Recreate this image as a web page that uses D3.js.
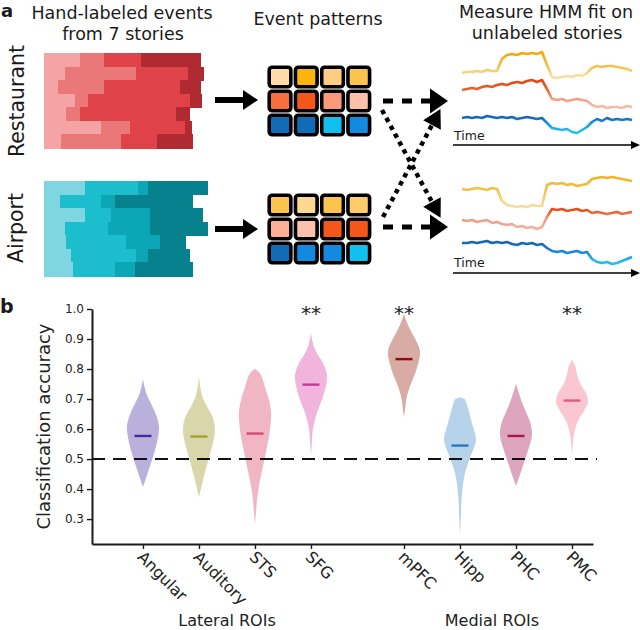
<!DOCTYPE html>
<html><head><meta charset="utf-8">
<script src="https://cdn.jsdelivr.net/npm/d3@7"></script>
<style>body{margin:0;background:#fff}svg{display:block;font-family:"DejaVu Sans",sans-serif}</style>
</head><body><svg id="c" width="640" height="630"></svg>
<script>
// ---------- Panel a data ----------
const restaurantEvents = [
  [0,36,60,97,157],[0,21,92,144,160],[0,14,60,136,157],[0,31,44,146,158],
  [0,22,36,132,146],[0,57,86,141,148],[0,17,77,113,149]];
const airportEvents = [
  [0,41,94,104,164],[0,16,57,71,149],[0,41,67,106,159],[0,21,64,106,164],
  [0,22,82,116,142],[0,27,92,104,146],[0,29,71,91,149]];
const restaurantColors = ["#f4a4a4","#ea7878","#df4349","#b02b31"];
const airportColors = ["#80d6e0","#1cbdcd","#0ca7b7","#07818d"];
const restaurantPattern = [
  ["#fddcaa","#fbb40c","#fdcd82","#fcc44c"],
  ["#f76f3e","#f3571a","#fb9a7a","#fdc0aa"],
  ["#106cb6","#106cb6","#12c0f0","#128ae0"]];
const airportPattern = [
  ["#fcc44c","#fdd892","#fcc44c","#fdcb6c"],
  ["#fdae96","#fdc0aa","#f3571a","#f3571a"],
  ["#106cb6","#128ae0","#128ae0","#12c0f0"]];
// HMM fit time courses (arbitrary activation units)
const topYellow = [7.2,7.3,7.3,7.4,7.3,7.5,7.4,7.4,8.6,9.0,9.1,9.0,9.2,9.1,9.2,9.1,9.3,8.0,6.8,6.7,6.8,6.9,6.8,7.0,6.9,7.2,7.7,7.9,7.8,7.9,7.9,7.8,7.7,7.6,7.4];
const topOrange = [5.5,5.6,5.7,5.6,5.8,5.9,5.8,6.0,6.1,6.0,6.2,6.3,6.2,6.4,6.5,6.3,6.5,5.6,4.6,4.5,4.6,4.4,4.5,4.6,4.5,4.4,4.0,3.8,3.9,3.7,3.8,3.8,3.7,3.9,3.8];
const topBlue = [2.7,2.8,2.7,2.8,2.7,2.9,2.8,2.7,2.8,2.7,2.8,2.6,2.7,2.8,2.7,2.6,2.7,2.2,1.7,1.6,1.5,1.6,1.3,1.2,1.5,1.8,2.3,2.6,2.4,2.7,2.5,2.6,2.5,2.6,2.5];
const botYellow = [8.4,8.3,8.4,8.5,8.4,8.3,8.5,8.4,7.2,6.8,6.7,6.6,6.7,6.6,6.8,6.7,6.7,8.8,9.0,8.9,9.0,8.8,8.9,8.7,8.8,8.9,9.4,9.5,9.6,9.5,9.6,9.5,9.4,9.3,9.2];
const botOrange = [5.3,5.2,5.3,5.1,5.2,5.3,5.0,5.1,4.9,4.8,4.9,4.6,4.7,4.5,4.6,4.4,4.6,5.6,6.4,6.3,6.4,6.2,6.3,6.4,6.2,6.3,6.0,6.1,6.0,5.9,6.0,6.1,5.9,6.0,6.1];
const botBlue = [3.0,3.0,3.1,3.0,3.1,3.2,3.0,3.1,3.0,3.1,2.9,2.8,3.0,2.9,3.0,2.8,2.9,2.5,2.2,2.1,2.2,2.0,2.1,2.2,2.0,2.1,1.4,1.1,1.0,1.1,0.9,1.0,1.2,1.4,1.6];
const topYellowStops = [[9.0,"#f0aa10"],[7.8,"#f3c44e"],[6.9,"#f8dea0"]];
const topOrangeStops = [[6.3,"#e24a16"],[5.5,"#e96630"],[4.6,"#f3a084"],[3.8,"#f6baa6"]];
const topBlueStops = [[2.8,"#1466b8"],[2.4,"#1a82d2"],[1.4,"#26bff2"]];
const botYellowStops = [[9.5,"#f0b428"],[8.4,"#f0c24a"],[6.7,"#f8dc9e"]];
const botOrangeStops = [[6.3,"#e8501a"],[5.4,"#f09a82"],[4.4,"#f4b2a2"]];
const botBlueStops = [[3.0,"#1466b8"],[2.1,"#1a88dc"],[1.0,"#26bff2"]];

// ---------- Panel b data ----------
const rois = ["Angular","Auditory","STS","SFG","mPFC","Hipp","PHC","PMC"];
const roiGroups = ["Lateral","Lateral","Lateral","Lateral","Medial","Medial","Medial","Medial"];
const groupLabels = {Lateral:"Lateral ROIs", Medial:"Medial ROIs"};
const medians = [0.577,0.575,0.585,0.748,0.833,0.545,0.577,0.695];
const significant = [false,false,false,true,true,false,false,true];
const violinProfiles = [
  [[0.407,0],[0.43,0.15],[0.47,0.4],[0.52,0.7],[0.57,0.93],[0.61,1.0],[0.65,0.8],[0.69,0.45],[0.72,0.2],[0.745,0.08],[0.767,0]],
  [[0.373,0],[0.40,0.12],[0.45,0.35],[0.50,0.6],[0.55,0.86],[0.60,1.0],[0.64,0.85],[0.68,0.45],[0.71,0.2],[0.74,0.08],[0.78,0]],
  [[0.28,0],[0.32,0.06],[0.37,0.14],[0.42,0.28],[0.47,0.48],[0.52,0.67],[0.57,0.86],[0.62,0.98],[0.66,1.0],[0.70,0.86],[0.74,0.62],[0.77,0.45],[0.79,0.25],[0.80,0]],
  [[0.51,0],[0.55,0.05],[0.60,0.12],[0.65,0.35],[0.70,0.7],[0.75,0.96],[0.78,1.0],[0.82,0.75],[0.85,0.4],[0.88,0.15],[0.92,0]],
  [[0.64,0],[0.67,0.08],[0.70,0.15],[0.74,0.36],[0.78,0.66],[0.82,0.9],[0.86,1.0],[0.90,0.7],[0.93,0.4],[0.96,0.15],[0.985,0]],
  [[0.25,0],[0.30,0.05],[0.35,0.08],[0.40,0.15],[0.45,0.3],[0.50,0.6],[0.55,0.95],[0.57,1.0],[0.61,0.8],[0.65,0.6],[0.69,0.38],[0.70,0.3],[0.705,0]],
  [[0.41,0],[0.44,0.2],[0.48,0.45],[0.53,0.76],[0.58,1.0],[0.62,0.9],[0.66,0.6],[0.70,0.3],[0.73,0.12],[0.75,0]],
  [[0.51,0],[0.55,0.05],[0.59,0.15],[0.63,0.4],[0.66,0.75],[0.69,1.0],[0.72,0.86],[0.75,0.52],[0.78,0.32],[0.81,0.2],[0.83,0]]];
const violinFills = ["#b9b1dc","#d8d6aa","#f0b6c4","#f1b5dd","#d8aba5","#b6d3eb","#dda6be","#f9c6d1"];
const medianColors = ["#3c2ca0","#a4a42a","#d84874","#c03c9c","#8c0c10","#2878c0","#a4184c","#e0607c"];
const yTicks = [0.3,0.4,0.5,0.6,0.7,0.8,0.9,1.0];
const chanceLevel = 0.5;

const svg = d3.select("#c");
const ink = "#1a1a1a";

// ================= Panel a =================
svg.append("text").attr("x",1).attr("y",17).attr("font-size",18).attr("font-weight","bold").attr("fill",ink).text("a");
const titles = [
  {x:122,y:19,t:"Hand-labeled events"},{x:123,y:40,t:"from 7 stories"},
  {x:318,y:25,t:"Event patterns"},
  {x:546,y:18,t:"Measure HMM fit on"},{x:547,y:39,t:"unlabeled stories"}];
svg.selectAll("text.title").data(titles).join("text").attr("class","title")
  .attr("x",d=>d.x).attr("y",d=>d.y).attr("text-anchor","middle").attr("font-size",17.5).attr("fill",ink).text(d=>d.t);
svg.append("text").attr("transform","translate(24,101) rotate(-90)").attr("text-anchor","middle").attr("font-size",20.5).attr("fill",ink).text("Restaurant");
svg.append("text").attr("transform","translate(23,228) rotate(-90)").attr("text-anchor","middle").attr("font-size",20.5).attr("fill",ink).text("Airport");

const evX = d3.scaleLinear().domain([0,160]).range([44,204]);
function drawEvents(rows, colors, top, bottom){
  const band = d3.scaleBand().domain(d3.range(rows.length)).range([top,bottom]);
  const g = svg.append("g").attr("shape-rendering","crispEdges");
  rows.forEach((b,r)=>{
    for(let k=0;k<b.length-1;k++){
      g.append("rect").attr("x",evX(b[k])).attr("y",band(r))
        .attr("width",evX(b[k+1])-evX(b[k])+(k<b.length-2?0.6:0)).attr("height",band.bandwidth()+0.6)
        .attr("fill",colors[k]);
    }
  });
}
drawEvents(restaurantEvents, restaurantColors, 53, 148);
drawEvents(airportEvents, airportColors, 181, 276);

function solidArrow(x1,x2,y){
  svg.append("line").attr("x1",x1).attr("x2",x2-12).attr("y1",y).attr("y2",y).attr("stroke","#000").attr("stroke-width",6);
  svg.append("polygon").attr("points",`${x2-15},${y-10} ${x2},${y} ${x2-15},${y+10}`).attr("fill","#000");
}
solidArrow(215,258,100);
solidArrow(215,258,229);

function drawPattern(pat, left, top){
  const cx = d3.scaleBand().domain(d3.range(4)).range([left,left+105]);
  const cy = d3.scaleBand().domain(d3.range(3)).range([top,top+72]);
  pat.forEach((row,r)=>row.forEach((c,k)=>{
    svg.append("rect").attr("x",cx(k)+2.2).attr("y",cy(r)+2.2)
      .attr("width",cx.bandwidth()-4.6).attr("height",cy.bandwidth()-4.4)
      .attr("rx",3).attr("fill",c).attr("stroke","#000").attr("stroke-width",3.6);
  }));
}
drawPattern(restaurantPattern,267,65);
drawPattern(airportPattern,267,193);

function head(xb,yb,dx,dy,len,hw){
  const n=Math.hypot(dx,dy), ux=dx/n, uy=dy/n, px=-uy, py=ux;
  svg.append("polygon").attr("points",
    `${xb+px*hw},${yb+py*hw} ${xb+ux*len},${yb+uy*len} ${xb-px*hw},${yb-py*hw}`).attr("fill","#000");
}
// dashed arrows
[101,227].forEach(y=>{
  svg.append("line").attr("x1",383).attr("x2",431).attr("y1",y).attr("y2",y)
    .attr("stroke","#000").attr("stroke-width",5).attr("stroke-dasharray","10,9");
  head(430,y,1,0,18,12.5);
});
// dotted crossing arrows
svg.append("line").attr("x1",382).attr("y1",110).attr("x2",432).attr("y2",202)
  .attr("stroke","#000").attr("stroke-width",4.5).attr("stroke-dasharray","4.5,4.5");
head(432,202,50,92,18,10);
svg.append("line").attr("x1",383).attr("y1",217).attr("x2",432).attr("y2",125)
  .attr("stroke","#000").attr("stroke-width",4.5).attr("stroke-dasharray","4.5,4.5");
head(432,125,49,-92,18,10);

// time courses
const tsX = d3.scaleLinear().domain([0,34]).range([462,632]);
const defs = svg.append("defs");
let gid=0;
function trace(vals, yScale, stops){
  const id="g"+(gid++);
  const y0=yScale(stops[0][0]), y1=yScale(stops[stops.length-1][0]);
  const lg = defs.append("linearGradient").attr("id",id).attr("gradientUnits","userSpaceOnUse")
    .attr("x1",0).attr("x2",0).attr("y1",y0).attr("y2",y1);
  stops.forEach(s=>lg.append("stop").attr("offset",(yScale(s[0])-y0)/(y1-y0)).attr("stop-color",s[1]));
  svg.append("path").attr("d",d3.line().x((d,i)=>tsX(i)).y(d=>yScale(d))(vals))
    .attr("fill","none").attr("stroke",`url(#${id})`).attr("stroke-width",2.6).attr("stroke-linejoin","round");
}
const topY = d3.scaleLinear().domain([0,10]).range([145,45]);
const botY = d3.scaleLinear().domain([0,10]).range([273,173]);
trace(topYellow, topY, topYellowStops);
trace(topOrange, topY, topOrangeStops);
trace(topBlue, topY, topBlueStops);
trace(botYellow, botY, botYellowStops);
trace(botOrange, botY, botOrangeStops);
trace(botBlue, botY, botBlueStops);
[[145,140],[273,267]].forEach(([ya,yt])=>{
  svg.append("line").attr("x1",453).attr("x2",634).attr("y1",ya).attr("y2",ya).attr("stroke","#000").attr("stroke-width",1.6);
  svg.append("polygon").attr("points",`${631},${ya-4} ${640},${ya} ${631},${ya+4}`).attr("fill","#000");
  svg.append("text").attr("x",454).attr("y",yt).attr("font-size",12.5).attr("fill",ink).text("Time");
});

// ================= Panel b =================
svg.append("text").attr("x",0).attr("y",313).attr("font-size",19).attr("font-weight","bold").attr("fill",ink).text("b");
const groupGap = 0.66;
const pos = i => i + (roiGroups[i]==="Medial" ? groupGap : 0);
const x = d3.scaleLinear().domain([-0.91,8.035]).range([92,593]);
const y = d3.scaleLinear().domain([0.217,1.0]).range([544,309]);
const halfW = 16;

const vg = svg.append("g");
violinProfiles.forEach((prof,i)=>{
  const cx = x(pos(i));
  const area = d3.area().curve(d3.curveCatmullRom.alpha(0.5))
    .y(d=>y(d[0])).x0(d=>cx-d[1]*halfW).x1(d=>cx+d[1]*halfW);
  vg.append("path").attr("d",area(prof)).attr("fill",violinFills[i]);
  vg.append("line").attr("x1",cx-8.5).attr("x2",cx+8.5).attr("y1",y(medians[i])).attr("y2",y(medians[i]))
    .attr("stroke",medianColors[i]).attr("stroke-width",2.4);
});
// chance line
svg.append("line").attr("x1",92).attr("x2",597).attr("y1",y(chanceLevel)).attr("y2",y(chanceLevel))
  .attr("stroke","#111").attr("stroke-width",2).attr("stroke-dasharray","13,8");

// axes
const yAxis = svg.append("g").attr("transform","translate(92,0)")
  .call(d3.axisLeft(y).tickValues(yTicks).tickFormat(d3.format(".1f")).tickSize(5).tickSizeOuter(0).tickPadding(3));
yAxis.select(".domain").attr("stroke",ink).attr("stroke-width",2);
yAxis.selectAll(".tick line").attr("stroke",ink).attr("stroke-width",1.4);
yAxis.selectAll("text").attr("font-size",12).attr("fill","#222").attr("font-family","DejaVu Sans");

const xAxis = svg.append("g").attr("transform","translate(0,544)")
  .call(d3.axisBottom(x).tickValues(rois.map((r,i)=>pos(i))).tickFormat((d,i)=>rois[i]).tickSize(5).tickSizeOuter(0));
xAxis.select(".domain").attr("stroke",ink).attr("stroke-width",2);
xAxis.selectAll(".tick line").attr("stroke",ink).attr("stroke-width",1.4);
xAxis.selectAll("text").attr("font-size",16).attr("fill","#222").attr("font-family","DejaVu Sans")
  .attr("text-anchor","start").attr("dy",0).attr("y",0)
  .attr("transform","translate(-7,14) rotate(45)");

// stars
svg.selectAll("text.star").data(rois.map((r,i)=>i).filter(i=>significant[i])).join("text").attr("class","star")
  .attr("x",i=>x(pos(i))).attr("y",320).attr("text-anchor","middle").attr("font-size",20).attr("fill","#222").text("**");

// axis labels
svg.append("text").attr("transform",`translate(50,${(y.range()[0]+y.range()[1])/2}) rotate(-90)`)
  .attr("text-anchor","middle").attr("font-size",18).attr("fill","#222").text("Classification accuracy");
Object.keys(groupLabels).forEach(gk=>{
  const idx = rois.map((r,i)=>i).filter(i=>roiGroups[i]===gk);
  const cx = d3.mean(idx,i=>x(pos(i)));
  svg.append("text").attr("x",cx + (gk==="Medial"?4:0)).attr("y",626).attr("text-anchor","middle").attr("font-size",16).attr("fill","#222").text(groupLabels[gk]);
});
</script></body></html>
